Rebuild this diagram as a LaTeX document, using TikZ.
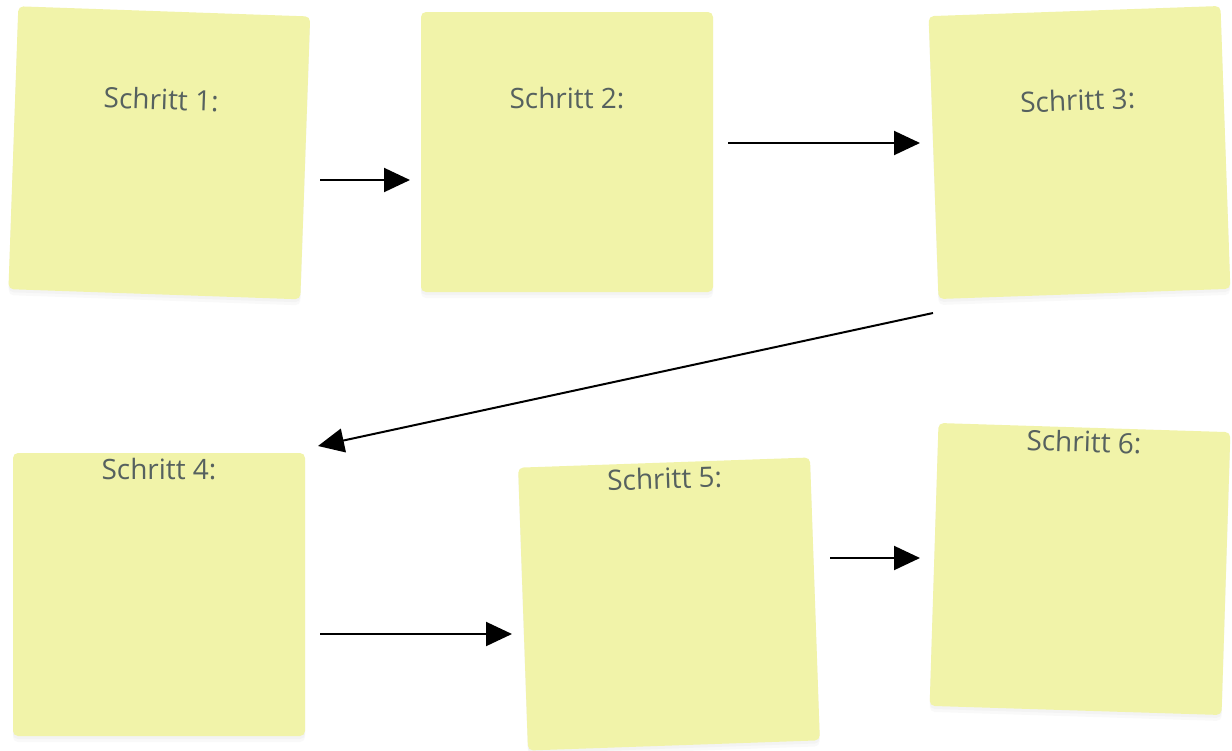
\documentclass[tikz,border=0pt]{standalone}
\usepackage{fontspec}
\setmainfont{Open Sans}
\usetikzlibrary{arrows.meta,calc,shadows}
\definecolor{notefill}{HTML}{F1F3A9}
\definecolor{notetext}{HTML}{56615F}
\tikzset{
  note/.style={fill=notefill, rounded corners=5pt, inner sep=0pt,
    minimum width=292pt, minimum height=283pt,
    drop shadow={opacity=0.05, shadow xshift=0pt, shadow yshift=-6pt},
    drop shadow={opacity=0.05, shadow xshift=0pt, shadow yshift=-3pt}},
  notelabel/.style={text=notetext, font=\fontsize{28}{32}\selectfont, inner sep=0pt},
  flow/.style={line width=2pt, -{Triangle[length=26pt,width=24pt]}}
}
\begin{document}
\begin{tikzpicture}[x=1pt,y=-1pt]
\useasboundingbox (0,0) rectangle (1232,750);
% notes
\node[note, rotate=-2] (n1) at (159.3,152.8) {};
\node[note, minimum height=280pt] (n2) at (567,152) {};
\node[note, rotate=2] (n3) at (1079.5,152.5) {};
\node[note] (n4) at (159,594.5) {};
\node[note, rotate=2] (n5) at (669,604) {};
\node[note, rotate=-1.8] (n6) at (1080,569) {};
% labels
\node[notelabel, rotate=-2] (t1) at ($(n1.north)!0.311!(n1.south)$) {Schritt 1:};
\node[notelabel] (t2) at ($(n2.north)!0.307!(n2.south)$) {Schritt 2:};
\node[notelabel, rotate=2] (t3) at ($(n3.north)!0.315!(n3.south)$) {Schritt 3:};
\node[notelabel] (t4) at ($(n4.north)!0.057!(n4.south)$) {Schritt 4:};
\node[notelabel, rotate=2] (t5) at ($(n5.north)!0.057!(n5.south)$) {Schritt 5:};
\node[notelabel, rotate=-1.8] (t6) at ($(n6.north)!0.05!(n6.south)$) {Schritt 6:};
% arrow end points
\coordinate (a1s) at (320,180);  \coordinate (a1e) at (410,180);
\coordinate (a2s) at (728,143);  \coordinate (a2e) at (920,143);
\coordinate (a3s) at (933,313);  \coordinate (a3e) at (318,446);
\coordinate (a4s) at (320,634);  \coordinate (a4e) at (512,634);
\coordinate (a5s) at (830,558);  \coordinate (a5e) at (920,558);
\draw[flow] (a1s) -- (a1e);
\draw[flow] (a2s) -- (a2e);
\draw[flow] (a3s) -- (a3e);
\draw[flow] (a4s) -- (a4e);
\draw[flow] (a5s) -- (a5e);
\end{tikzpicture}
\end{document}
